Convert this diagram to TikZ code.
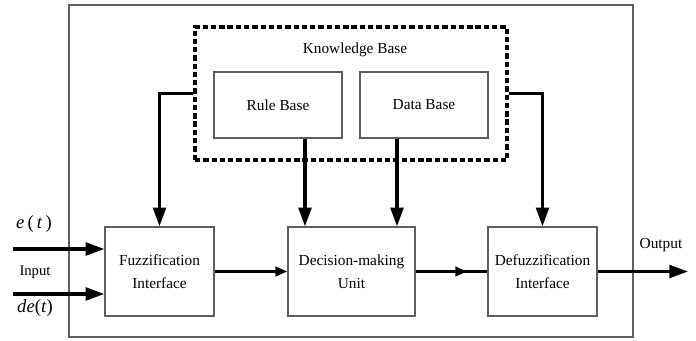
\documentclass[tikz,border=0pt]{standalone}
\usepackage{fontspec}
\setmainfont{Liberation Serif}
\usetikzlibrary{arrows.meta,decorations.markings}
\definecolor{frameline}{RGB}{95,95,95}

\tikzset{
    block/.style={draw=frameline, line width=0.9pt, fill=white, align=center,
        inner sep=0pt, font=\fontsize{11.5}{17}\selectfont},
    mainblock/.style={block, minimum width=81.75pt, minimum height=66.75pt},
    baseblock/.style={block, minimum width=96pt, minimum height=49.5pt},
    kbbox/.style={draw, line width=2.8pt, dash pattern=on 4pt off 2.2pt,
        minimum width=234pt, minimum height=99.75pt, inner sep=0pt},
    flow/.style={line width=2.4pt, -{Triangle[length=14pt,width=9.5pt]}},
    smallflow/.style={line width=2.4pt, -{Triangle[length=9pt,width=7pt]}},
    midflow/.style={line width=2.4pt, postaction={decorate},
        decoration={markings, mark=at position 0.72 with
        {\arrow{Triangle[length=9pt,width=7pt]}}}},
    tag/.style={inner sep=0pt, font=\fontsize{11}{13}\selectfont}
}

\begin{document}
\begin{tikzpicture}[x=0.75pt,y=-0.75pt]
    %% Background
    \useasboundingbox (0,0) rectangle (696,340);
    \node[draw=frameline, line width=0.9pt, minimum width=423pt,
        minimum height=249pt, inner sep=0pt] (system) at (351,171) {};
    %% Knowledge base
    \node[kbbox] (kb) at (351,93.5) {};
    \node[tag, font=\fontsize{11.5}{13}\selectfont] (kblabel) at (355,50) {Knowledge Base};
    \node[baseblock] (rule) at (278,105) {Rule Base};
    \node[baseblock] (data) at (424,105) {Data Base};
    %% Controller chain
    \node[mainblock] (fuzz) at (159.5,271.5) {Fuzzification\\Interface};
    \node[mainblock, minimum width=95.25pt] (decide) at (351.5,271.5) {Decision-making\\Unit};
    \node[mainblock] (defuzz) at (542.5,271.5) {Defuzzification\\Interface};
    %% Inputs and output
    \coordinate (ein) at (13,249);
    \coordinate (dein) at (13,294);
    \coordinate (out) at (688,271.5);
    \node[tag, font=\fontsize{14}{16}\selectfont] (elabel) at (34,224) {\textit{e}\,(\,\textit{t}\,)};
    \node[tag] (inlabel) at (35,272) {Input};
    \node[tag, font=\fontsize{14}{16}\selectfont] (delabel) at (35,308) {\textit{de}(\textit{t})};
    \node[tag, font=\fontsize{11.5}{13}\selectfont] (outlabel) at (661,245) {Output};
    \draw[flow] (ein) -- (ein -| fuzz.west);
    \draw[flow] (dein) -- (dein -| fuzz.west);
    \draw[flow] (defuzz.east) -- (out);
    %% Connections
    \draw[flow] (kb.west) -| (fuzz.north);
    \draw[flow] (kb.east) -| (defuzz.north);
    \coordinate (ruleout) at (rule.south -| 305,0);
    \coordinate (dataout) at (data.south -| 397,0);
    \draw[flow] (ruleout) -- (ruleout |- decide.north);
    \draw[flow] (dataout) -- (dataout |- decide.north);
    \draw[smallflow] (fuzz.east) -- (decide.west);
    \draw[midflow] (decide.east) -- (defuzz.west);
\end{tikzpicture}
\end{document}
